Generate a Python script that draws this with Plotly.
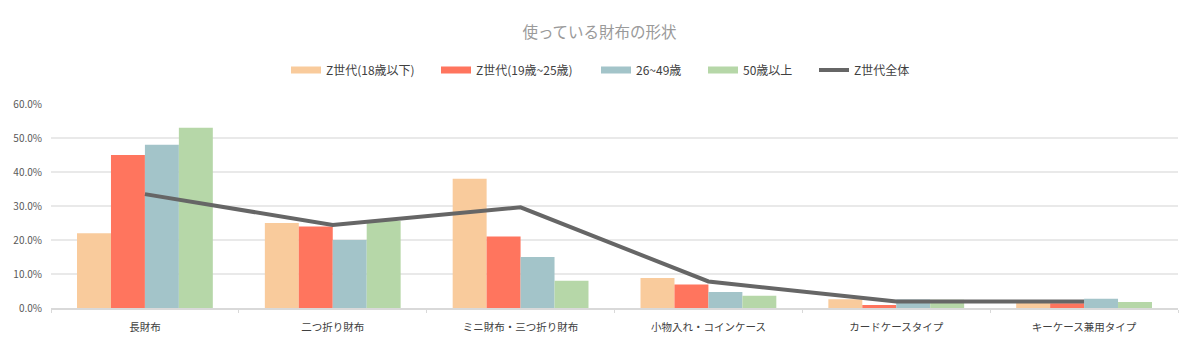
import plotly.graph_objects as go

# Wallet shapes in use, by age group (percent of respondents)
categories = ["長財布", "二つ折り財布", "ミニ財布・三つ折り財布",
              "小物入れ・コインケース", "カードケースタイプ", "キーケース兼用タイプ"]

series_names = ["Z世代(18歳以下)", "Z世代(19歳~25歳)", "26~49歳", "50歳以上"]
under_18 = [22.0, 25.0, 38.0, 8.8, 2.6, 1.5]
age_19_25 = [45.0, 24.0, 21.0, 6.9, 0.9, 1.4]
age_26_49 = [48.0, 20.0, 15.0, 4.7, 2.5, 2.7]
age_50_up = [53.0, 25.6, 8.0, 3.6, 2.4, 1.8]

total_name = "Z世代全体"
gen_z_total = [33.5, 24.4, 29.6, 7.8, 1.9, 1.9]

y_ticks = [0, 10, 20, 30, 40, 50, 60]
y_tick_text = [f"{v:.1f}%" for v in y_ticks]

bar_colors = ["#F9CB9C", "#FF755E", "#A3C4C9", "#B6D7A8"]
line_color = "#666666"
font_family = "Noto Sans CJK JP, Noto Sans, sans-serif"

# Plot area in pixels (used to place legend entries)
W, H = 1199, 350
ML, MR, MT, MB = 51, 21, 104, 42
plot_w = W - ML - MR
plot_h = H - MT - MB

fig = go.Figure()

for name, vals, col in zip(series_names, [under_18, age_19_25, age_26_49, age_50_up], bar_colors):
    fig.add_trace(go.Bar(
        x=categories, y=vals, name=name, marker_color=col,
        marker_line_width=0, showlegend=False,
    ))

fig.add_trace(go.Scatter(
    x=categories, y=gen_z_total, name=total_name, mode="lines",
    line=dict(color=line_color, width=4), showlegend=False,
))

# Legend entries: one small legend per entry so the spacing can be set
legend_ids = ["legend", "legend2", "legend3", "legend4", "legend5"]
legend_left_px = [286, 436, 596, 703, 814]
entry_names = series_names + [total_name]
entry_colors = bar_colors + [line_color]
entry_widths = [7, 7, 7, 7, 4]

for lid, name, col, lw in zip(legend_ids, entry_names, entry_colors, entry_widths):
    fig.add_trace(go.Scatter(
        x=[None], y=[None], name=name, mode="lines",
        line=dict(color=col, width=lw), showlegend=True, legend=lid,
    ))

legend_y = 1 + (MT - 70) / plot_h
legend_layout = {}
for lid, px in zip(legend_ids, legend_left_px):
    legend_layout[lid] = dict(
        orientation="h", x=(px - ML) / plot_w, xanchor="left",
        y=legend_y, yanchor="middle",
        font=dict(size=12, color="#404040", family=font_family),
        bgcolor="rgba(0,0,0,0)", borderwidth=0,
    )

fig.update_layout(
    width=W, height=H,
    margin=dict(l=ML, r=MR, t=MT, b=MB),
    paper_bgcolor="white", plot_bgcolor="white",
    font=dict(family=font_family, color="#404040"),
    barmode="group", bargap=0.277, bargroupgap=0,
    title=dict(
        text="使っている財布の形状", x=0.5, xanchor="center",
        y=1 - 33 / H, yanchor="middle",
        font=dict(size=15.5, color="#9A9A9A", family=font_family),
    ),
    showlegend=True,
    **legend_layout,
)

fig.update_xaxes(
    type="category", showgrid=False, showline=True, linecolor="#D9D9D9", linewidth=1.5,
    ticks="outside", tickson="boundaries", ticklen=3, tickcolor="#D9D9D9",
    tickfont=dict(size=10.5, color="#404040"), ticklabelstandoff=9,
    fixedrange=True,
)
fig.update_yaxes(
    range=[0, 60], tickvals=y_ticks, ticktext=y_tick_text,
    showgrid=True, gridcolor="#E9E9E9", gridwidth=1.5, zeroline=False,
    showline=False, tickfont=dict(size=10, color="#595959"), ticks="",
    ticklabelstandoff=8, fixedrange=True,
)

fig.write_html("out.html")
